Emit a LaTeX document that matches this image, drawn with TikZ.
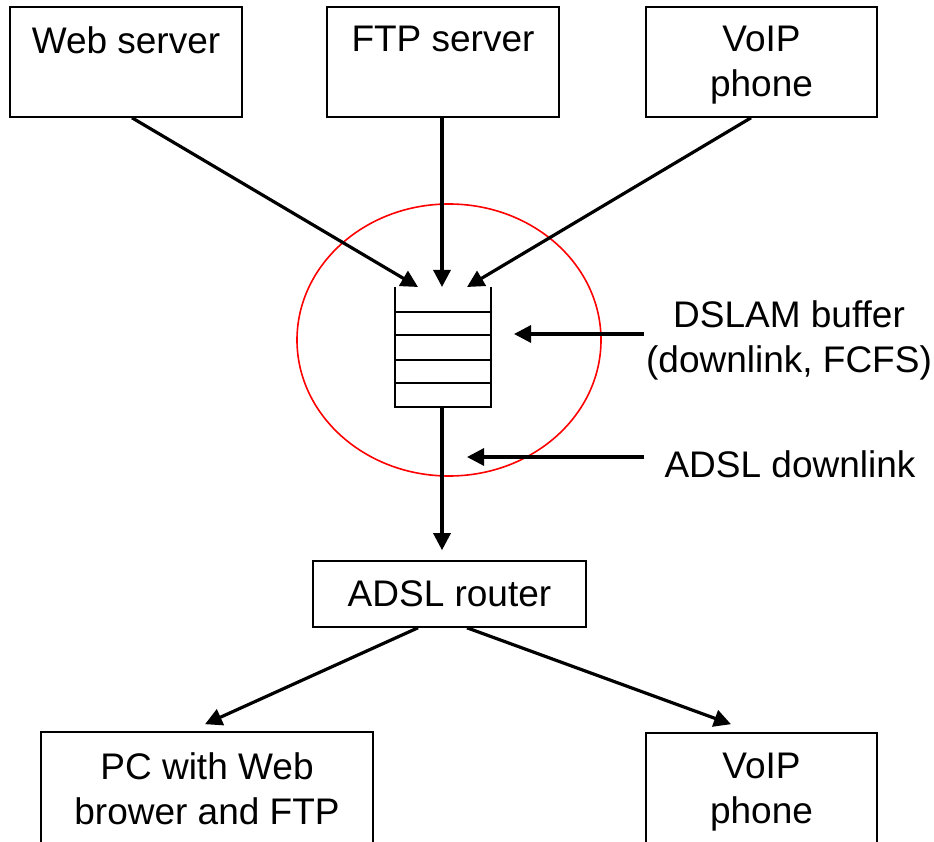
\documentclass[tikz,border=0pt]{standalone}
\usepackage{fontspec}
\setmainfont{Liberation Sans}
\usetikzlibrary{arrows.meta}
\tikzset{
  box/.style={draw, line width=1.6pt, rectangle, inner sep=0pt},
  txt/.style={inner sep=0pt, font=\fontsize{37}{45}\selectfont, align=center},
  conn/.style={line width=3.2pt, -{Triangle[length=17pt,width=17pt]}},
  qline/.style={line width=1.6pt},
  ring/.style={draw=red, line width=1.6pt}
}
\begin{document}
\begin{tikzpicture}[x=1pt,y=-1pt]
\useasboundingbox (0,0) rectangle (934,842);
\clip (0,0) rectangle (934,842);
% top boxes
\node[box, minimum width=232pt, minimum height=110pt,
  label={[txt,anchor=north,yshift=-20pt]north:Web server}] (web) at (126,62) {};
\node[box, minimum width=232pt, minimum height=110pt,
  label={[txt,anchor=north,yshift=-20pt]north:FTP server}] (ftp) at (443,62) {};
\node[box, minimum width=231pt, minimum height=110pt,
  label={[txt,anchor=north,yshift=-20pt]north:VoIP\\phone}] (voipa) at (761.5,62) {};
% ellipse
\draw[ring] (449,340) ellipse [x radius=152, y radius=136];
% queue
\node[minimum width=96pt, minimum height=120pt, inner sep=0pt] (queue) at (443,347) {};
\draw[qline] (queue.north west) -- (queue.south west) -- (queue.south east) -- (queue.north east);
\foreach \yy in {312,335,360,383} \draw[qline] (queue.west |- 0,\yy) -- (queue.east |- 0,\yy);
\coordinate (qa) at (418,287);
\coordinate (qb) at (442,287);
\coordinate (qc) at (467,287);
\coordinate (qout) at (442,407);
% router and end boxes
\node[box, minimum width=273pt, minimum height=66pt, txt, draw] (router) at (449.5,594) {ADSL router};
\node[box, minimum width=332pt, minimum height=137pt,
  label={[txt,anchor=north,yshift=-21pt]north:PC with Web\\brower and FTP}] (pc) at (207,800.5) {};
\node[box, minimum width=231pt, minimum height=137pt,
  label={[txt,anchor=north,yshift=-21pt]north:VoIP\\phone}] (voipb) at (761.5,801.5) {};
% labels
\node[txt, anchor=north] (dslam) at (789,300) {DSLAM buffer\\(downlink, FCFS)};
\node[txt, anchor=base] (adsl) at (790,477) {ADSL downlink};
\coordinate (dslamtip) at (514,334);
\coordinate (adsltip) at (467,457);
% connectors
\draw[conn] ([xshift=6pt]web.south) -- (qa);
\draw[conn] (ftp.south -| qb) -- (qb);
\draw[conn] ([xshift=-10.5pt]voipa.south) -- (qc);
\draw[conn] (qout) -- ([yshift=10pt]router.north -| qout);
\draw[conn] ([xshift=-31.5pt]router.south) -- ([xshift=-2pt,yshift=7pt]pc.north);
\draw[conn] ([xshift=17.5pt]router.south) -- ([xshift=-30.5pt,yshift=8pt]voipb.north);
\draw[conn] (dslam.west |- dslamtip) ++(-2pt,0) -- (dslamtip);
\draw[conn] (adsl.west |- adsltip) ++(-20pt,0) -- (adsltip);
\end{tikzpicture}
\end{document}
